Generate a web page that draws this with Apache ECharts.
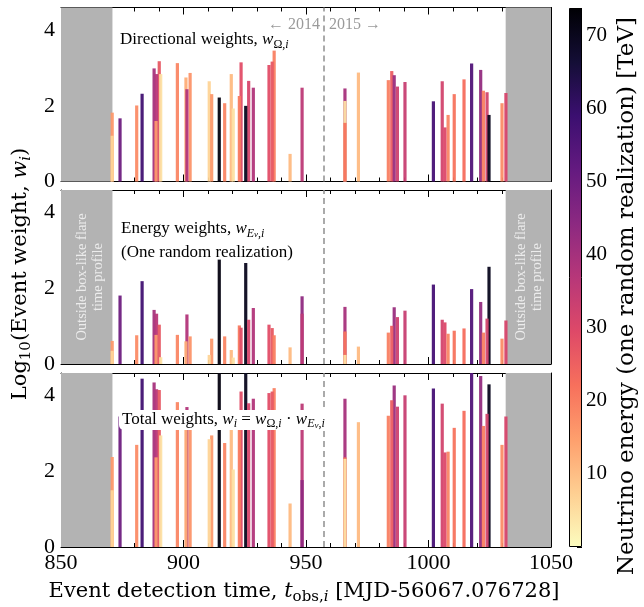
<!DOCTYPE html>
<html><head><meta charset="utf-8">
<script src="https://cdn.jsdelivr.net/npm/echarts@6/dist/echarts.min.js"></script>
<style>html,body{margin:0;padding:0;background:#fff}#c{width:644px;height:607px}</style>
</head><body><div id="c"></div>
<script>
// ---- data ----
const times = [870.9,870.9,874.1,880.9,883.1, 888.0,888.8,889.0,890.1,890.7, 897.5,901.0,901.4,902.7,910.5, 911.5,914.6,916.8,919.5,920.3, 922.8,923.5,925.4,926.6,928.5, 934.9,936.2,937.0,943.5,948.4, 948.4,965.9,965.9,965.9,971.4, 983.6,985.0,986.0,987.3,990.4, 1002.0,1005.6,1006.7,1008.0,1010.5, 1014.5,1017.6,1021.3,1022.4,1023.9, 1024.7,1030.0,1031.6];
const energies = [16,7,50,18,58, 40,16,37,27,5, 19,13,38,17,7, 16,72,19,11,5, 21,29,70,31,38, 29,27,20,11,44, 36,40,5,22,11, 20,26,42,33,34, 57,32,30,19,22, 23,55,43,20,32, 70,18,31];
const dirWeights = [1.82,1.21,1.67,2.01,2.32, 2.99,1.60,2.84,3.18,2.84, 3.13,2.75,2.44,2.87,2.65, 2.31,2.22,2.07,2.84,1.93, 2.26,3.15,2.00,2.66,2.48, 3.08,3.17,3.46,0.73,0.00, 2.48,2.46,2.13,1.55,2.88, 2.68,2.92,2.81,2.51,2.63, 2.12,2.65,1.43,1.76,2.31, 2.70,3.12,2.95,2.40,2.36, 1.76,2.07,2.34];
const energyWeights = [0.61,0.35,1.81,0.76,2.19, 1.43,0.77,1.33,1.04,0.18, 0.77,0.60,1.31,0.73,0.24, 0.67,2.76,0.73,0.37,0.17, 1.02,0.96,2.67,1.17,1.48, 1.04,0.95,0.76,0.44,1.79, 1.33,1.51,0.24,0.86,0.46, 0.83,1.01,1.50,1.24,1.41, 2.10,1.17,1.10,0.80,0.88, 0.94,1.98,1.64,0.83,1.20, 2.57,0.67,1.15];
const totalWeights = [2.38,1.50,3.45,2.70,4.45, 4.35,2.37,4.17,4.15,2.95, 3.83,3.30,3.70,3.55,2.85, 2.95,4.98,2.75,3.22,2.05, 3.28,4.11,4.67,3.80,3.92, 4.07,4.11,4.20,1.15,1.77, 3.79,3.92,2.33,2.37,3.30, 3.47,3.88,4.27,3.71,4.01, 4.19,3.79,2.50,2.52,3.15, 3.60,5.10,4.52,3.20,3.52, 4.30,2.70,3.45];
const xTicks = [850, 900, 950, 1000, 1050];
const yTicks = [0, 2, 4];
const cbTicks = [10, 20, 30, 40, 50, 60, 70];
const xRange = [850, 1050];
const yRange = [0, 4.6];
const cbRange = [0, 73.8];
const energyScale = [0.4, 73.8];
const grayRegions = [[850, 871], [1031.5, 1050]];
const yearBoundary = 957.3;

// ---- styling ----
const magmaR = ['#fcfdbf','#fecf92','#fe9f6d','#f7705c','#de4968','#b73779','#8c2981','#641a80','#3b0f70','#140e36','#000004'];
const FT = 'Liberation Serif';
const FD = 'DejaVu Serif';
const LEFT = 61, WIDTH = 490, PH = 174;
const panelTops = [7.5, 190, 373];
const panelValues = [dirWeights, energyWeights, totalWeights];

function richSet(size, fam, fill) {
  const sub = Math.round(size * 0.7);
  const ss = Math.round(size * 0.55);
  const pb = Math.round(size * 0.14);
  return {
    n: {fontSize: size, fontFamily: fam, fill: fill, verticalAlign: 'bottom', padding: [0, 0, pb, 0]},
    i: {fontSize: size, fontFamily: fam, fill: fill, fontStyle: 'italic', verticalAlign: 'bottom', padding: [0, 0, pb, 0]},
    s: {fontSize: sub, fontFamily: fam, fill: fill, verticalAlign: 'bottom'},
    si: {fontSize: sub, fontFamily: fam, fill: fill, fontStyle: 'italic', verticalAlign: 'bottom'},
    ssi: {fontSize: ss, fontFamily: fam, fill: fill, fontStyle: 'italic', verticalAlign: 'bottom', padding: [0, 0, 0, 0]}
  };
}

const grid = panelTops.map(t => ({left: LEFT, width: WIDTH, top: t, height: PH}));
grid.push({left: 569, width: 13, top: 8, height: 539});

const xAxis = [], yAxis = [];
panelTops.forEach((_, i) => {
  ['bottom', 'top'].forEach(pos => {
    xAxis.push({
      type: 'value', gridIndex: i, position: pos, min: xRange[0], max: xRange[1], interval: 50,
      axisLine: {show: true, onZero: false, lineStyle: {color: '#000', width: 1}},
      axisTick: {show: true, inside: true, length: 7, lineStyle: {color: '#000', width: 1}},
      minorTick: {show: true, splitNumber: 5, length: 4, lineStyle: {color: '#000', width: 1}},
      axisLabel: {show: pos === 'bottom' && i === 2, fontFamily: FT, fontSize: 22, color: '#000', margin: 5,
        formatter: v => xTicks.includes(v) ? String(v) : ''},
      splitLine: {show: false}, minorSplitLine: {show: false}
    });
  });
  ['left', 'right'].forEach(pos => {
    [true, false].forEach(major => {
      yAxis.push({
        type: 'value', gridIndex: i, position: pos, min: yRange[0], max: yRange[1], interval: major ? 2 : 0.25,
        axisLine: {show: major, onZero: false, lineStyle: {color: '#000', width: 1}},
        axisTick: {show: true, inside: true, length: major ? 7 : 4, lineStyle: {color: '#000', width: 1}},
        axisLabel: {show: major && pos === 'left', fontFamily: FT, fontSize: 22, color: '#000', margin: 6,
          formatter: v => yTicks.includes(v) ? String(v) : ''},
        splitLine: {show: false}
      });
    });
  });
});
// colorbar axes
xAxis.push({type: 'category', gridIndex: 3, data: ['cb'], show: false});
[true, false].forEach(major => {
  yAxis.push({
    type: 'value', gridIndex: 3, position: 'right', min: cbRange[0], max: cbRange[1], interval: major ? 10 : 2,
    axisLine: {show: false},
    axisTick: {show: true, inside: true, length: major ? 5 : 3, lineStyle: {color: '#000', width: 1}},
    axisLabel: {show: major, fontFamily: FT, fontSize: 21, color: '#000', margin: 4,
      formatter: v => cbTicks.includes(v) ? String(v) : ''},
    splitLine: {show: false}
  });
});

function panelData(vals) {
  const d = times.map((t, k) => [t, vals[k], energies[k]]);
  d.sort((a, b) => b[1] - a[1]);
  return d;
}

const series = panelValues.map((vals, i) => ({
  type: 'bar', xAxisIndex: 2 * i, yAxisIndex: 4 * i, barWidth: 3.2, clip: true,
  data: panelData(vals),
  itemStyle: {opacity: 0.95},
  markArea: {silent: true, itemStyle: {color: '#b3b3b3', opacity: 1},
    data: grayRegions.map(r => [{xAxis: r[0]}, {xAxis: r[1]}])},
  markLine: {silent: true, symbol: ['none', 'none'], label: {show: false},
    lineStyle: {color: '#8f8f8f', width: 1.5, type: [6, 4]},
    data: [{xAxis: yearBoundary}]}
}));
series.push({
  type: 'bar', xAxisIndex: 6, yAxisIndex: 12, barWidth: '100%', silent: true,
  data: [cbRange[1]],
  itemStyle: {borderColor: '#000', borderWidth: 1,
    color: {type: 'linear', x: 0, y: 1, x2: 0, y2: 0,
      colorStops: magmaR.map((c, k) => ({offset: k / (magmaR.length - 1), color: c}))}}
});

const r21 = richSet(21, FD, '#000');
const r17 = richSet(17, FT, '#000');
const graphic = [
  {type: 'text', x: 22, y: 274, rotation: Math.PI / 2, z: 100,
    style: {text: '{n|Log}{s|10}{n|(Event weight, }{i|w}{si|i}{n|)}', rich: r21, align: 'center', verticalAlign: 'middle'}},
  {type: 'text', x: 304, y: 593, z: 100,
    style: {text: '{n|Event detection time, }{i|t}{s|obs,}{si|i}{n| [MJD-56067.076728]}', rich: r21, align: 'center', verticalAlign: 'middle'}},
  {type: 'text', x: 627, y: 296, rotation: Math.PI / 2, z: 100,
    style: {text: 'Neutrino energy (one random realization) [TeV]', font: '23px "DejaVu Serif"', fill: '#000', align: 'center', verticalAlign: 'middle'}},
  {type: 'text', x: 120, y: 41, z: 100,
    style: {text: '{n|Directional weights, }{i|w}{s|Ω,}{si|i}', rich: r17, align: 'left', verticalAlign: 'middle'}},
  {type: 'text', x: 121, y: 230, z: 100,
    style: {text: '{n|Energy weights, }{i|w}{si|E}{ssi|ν}{s|,}{si|i}', rich: r17, align: 'left', verticalAlign: 'middle'}},
  {type: 'text', x: 121, y: 253, z: 100,
    style: {text: '(One random realization)', font: '17px "Liberation Serif"', fill: '#000', align: 'left', verticalAlign: 'middle'}},
  {type: 'text', x: 119, y: 420, z: 100,
    style: {text: '{n|Total weights, }{i|w}{si|i}{n| = }{i|w}{s|Ω,}{si|i}{n| · }{i|w}{si|E}{ssi|ν}{s|,}{si|i}', rich: r17,
      align: 'left', verticalAlign: 'middle', backgroundColor: '#fff', borderRadius: 5, padding: [1, 3, 0, 3]}},
  {type: 'text', x: 320, y: 25, z: 100,
    style: {text: '← 2014', font: '16px "Liberation Serif"', fill: '#9a9a9a', align: 'right', verticalAlign: 'middle'}},
  {type: 'text', x: 329, y: 25, z: 100,
    style: {text: '2015 →', font: '16px "Liberation Serif"', fill: '#9a9a9a', align: 'left', verticalAlign: 'middle'}},
  {type: 'text', x: 90, y: 277, rotation: Math.PI / 2, z: 100,
    style: {text: 'Outside box-like flare\ntime profile', font: '14.5px "Liberation Serif"', lineHeight: 16, fill: '#ececec', align: 'center', verticalAlign: 'middle'}},
  {type: 'text', x: 529, y: 277, rotation: Math.PI / 2, z: 100,
    style: {text: 'Outside box-like flare\ntime profile', font: '14.5px "Liberation Serif"', lineHeight: 16, fill: '#ececec', align: 'center', verticalAlign: 'middle'}}
];

const chart = echarts.init(document.getElementById('c'), null, {renderer: 'canvas', width: 644, height: 607});
chart.setOption({
  animation: false,
  backgroundColor: '#fff',
  grid, xAxis, yAxis, series, graphic,
  visualMap: {show: false, type: 'continuous', min: energyScale[0], max: energyScale[1], dimension: 2,
    seriesIndex: [0, 1, 2], inRange: {color: magmaR}}
});
</script>
</body></html>
